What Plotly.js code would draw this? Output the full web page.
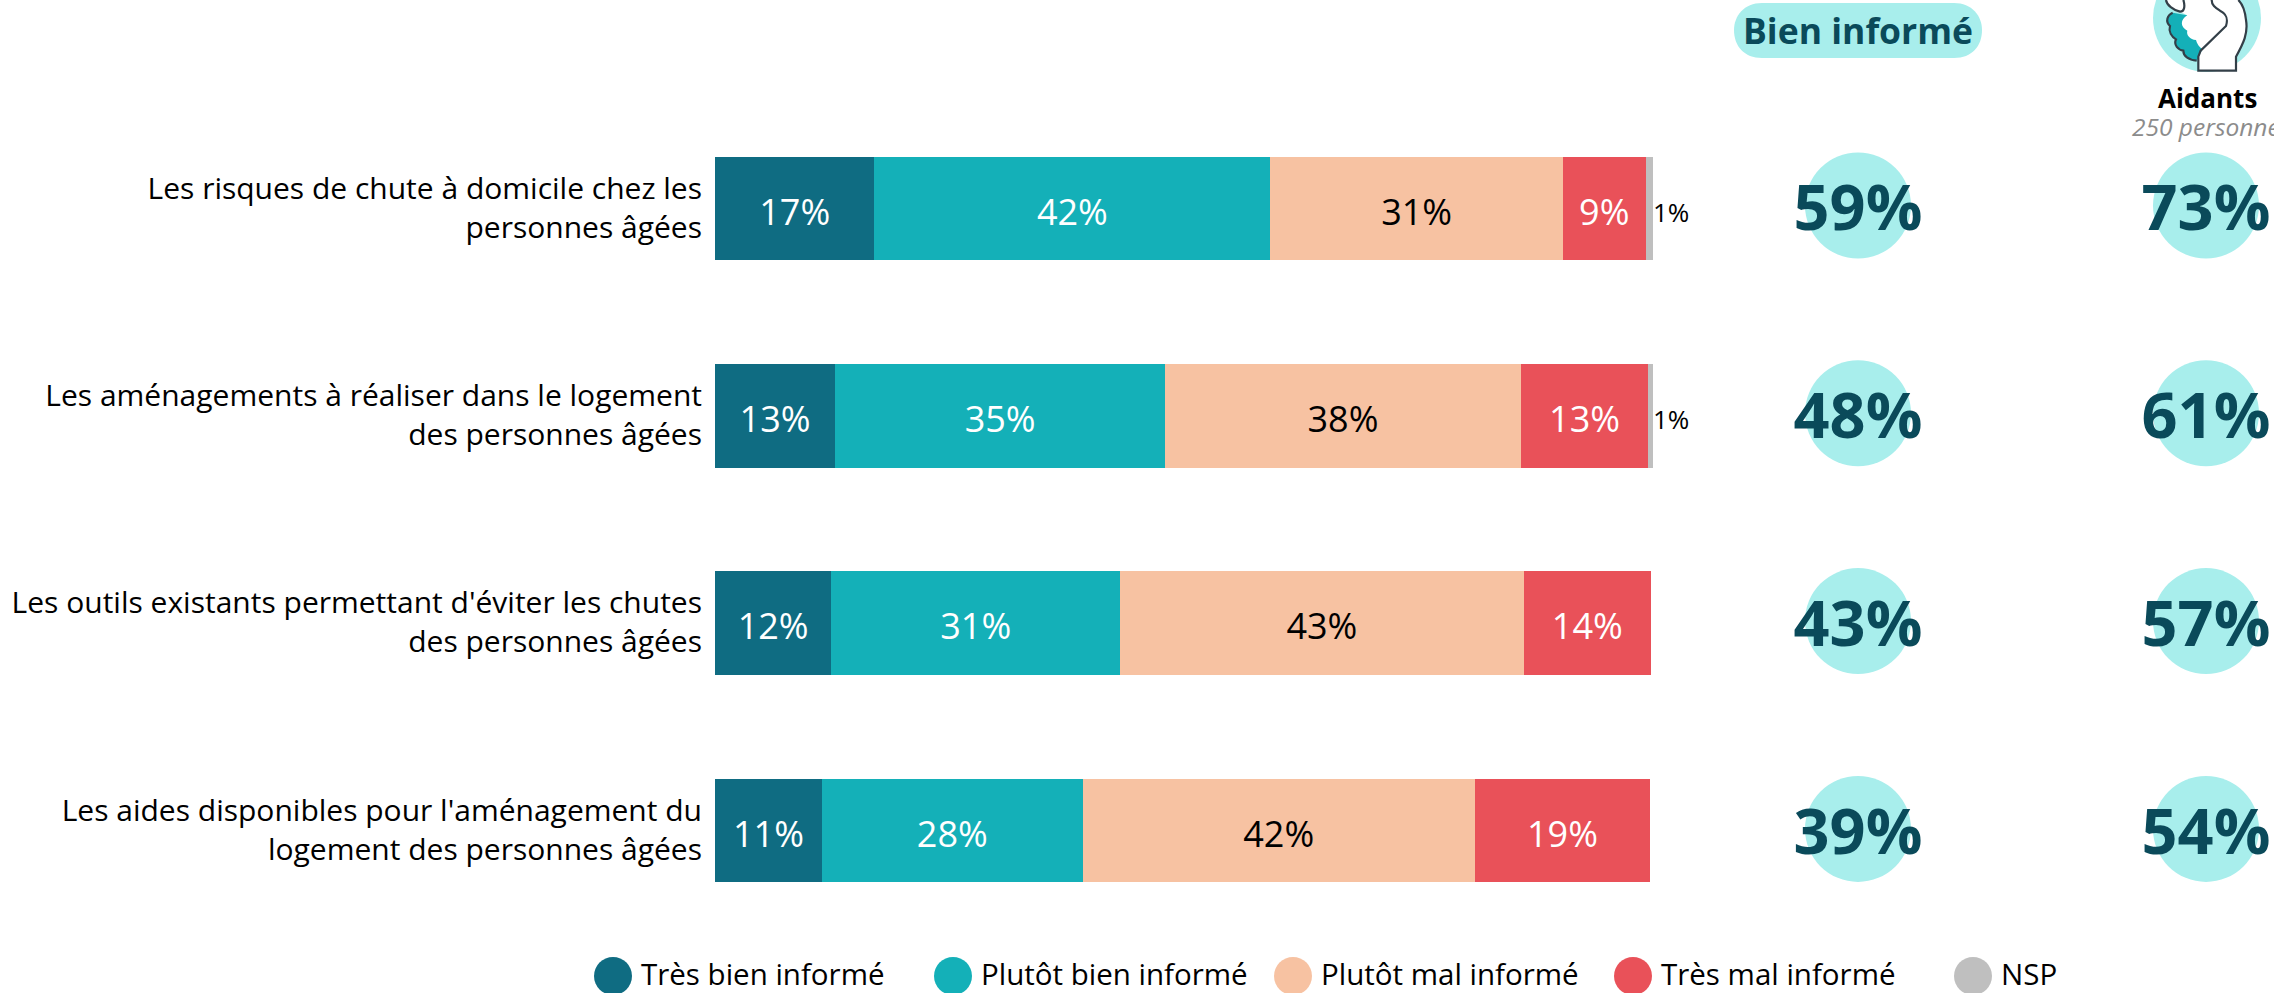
<!DOCTYPE html>
<html><head><meta charset="utf-8">
<script src="https://cdn.plot.ly/plotly-3.0.1.min.js"></script>
<style>html,body{margin:0;padding:0;background:#fff;overflow:hidden}</style>
</head><body><div id="chart" style="width:2274px;height:993px"></div>
<script>
const categories = [
 "Les risques de chute à domicile chez les<br>personnes âgées",
 "Les aménagements à réaliser dans le logement<br>des personnes âgées",
 "Les outils existants permettant d'éviter les chutes<br>des personnes âgées",
 "Les aides disponibles pour l'aménagement du<br>logement des personnes âgées"];
const seriesNames = ["Très bien informé","Plutôt bien informé","Plutôt mal informé","Très mal informé","NSP"];
const colors = ["#0F6C82","#14B0B8","#F7C2A2","#E95159","#BFBFBF"];
const tresBien = [17.0,12.8,12.4,11.4];
const plutotBien = [42.2,35.2,30.8,27.8];
const plutotMal = [31.2,37.9,43.0,41.8];
const tresMal = [8.8,13.6,13.6,18.7];
const nsp = [0.8,0.5,null,null];
const tresBienLabels = ["17%","13%","12%","11%"];
const plutotBienLabels = ["42%","35%","31%","28%"];
const plutotMalLabels = ["31%","38%","43%","42%"];
const tresMalLabels = ["9%","13%","14%","19%"];
const nspLabels = ["1%","1%","",""];
const bienInforme = ["59%","48%","43%","39%"];
const aidants = ["73%","61%","57%","54%"];
const columns = ["Bien informé","Aidants"];

const W=2274,H=993,FONT='"Open Sans", sans-serif';
const DARK="#0A4A5A",LIGHT="#A8EEEC",INK="#333F48";
const vals=[tresBien,plutotBien,plutotMal,tresMal,nsp];
const labs=[tresBienLabels,plutotBienLabels,plutotMalLabels,tresMalLabels,nspLabels];
const txtCol=["#fff","#fff","#000","#fff","#000"];
const traces=vals.map((v,i)=>({type:'bar',orientation:'h',name:seriesNames[i],y:categories,x:v,yaxis:'y2',
  marker:{color:colors[i],line:{width:0}},showlegend:false,hoverinfo:'x+y'}));
// carries the category tick labels
traces.push({type:'scatter',mode:'markers',x:tresBien,y:categories,xaxis:'x',yaxis:'y',marker:{size:1,opacity:0},showlegend:false,hoverinfo:'skip'});
// value labels: centred on each stacked segment (NSP: just right of the bar)
vals.forEach((v,i)=>{
  const xs=v.map((val,r)=>{
    if(val===null) return null;
    let base=0; for(let k=0;k<i;k++) base+=(vals[k][r]||0);
    return i==4? base+val : base+val/2;});
  traces.push({type:'scatter',mode:'text',x:xs,y:categories,xaxis:'x',yaxis:'y3',text:labs[i],
    textposition:i==4?'middle right':'middle center',cliponaxis:false,
    textfont:{family:FONT,size:i==4?26:36,color:txtCol[i]},showlegend:false,hoverinfo:'skip'});
});
columns.forEach((name,c)=>{
  const vs=c==0?bienInforme:aidants;
  traces.push({type:'scatter',mode:'markers',name:name,x:vs.map(()=>name),y:categories,xaxis:'x2',yaxis:'y4',cliponaxis:false,
    marker:{size:106,color:LIGHT,line:{width:0}},showlegend:false,hoverinfo:'skip'});
  traces.push({type:'scatter',mode:'text',name:name,x:vs.map(()=>name),y:categories,xaxis:'x2',yaxis:'y5',text:vs,
    textposition:'middle center',cliponaxis:false,textfont:{family:FONT,size:63,color:DARK,weight:700},showlegend:false,hoverinfo:'skip'});
});
traces.push({type:'scatter',mode:'markers',x:seriesNames,y:seriesNames.map(()=>"l"),xaxis:'x3',yaxis:'y6',cliponaxis:false,
  marker:{size:38,color:colors,line:{width:0}},showlegend:false,hoverinfo:'skip'});
traces.push({type:'scatter',mode:'text',x:seriesNames,y:seriesNames.map(()=>"l"),xaxis:'x4',yaxis:'y7',text:seriesNames,
  textposition:'middle right',cliponaxis:false,textfont:{family:FONT,size:29.5,color:'#000'},showlegend:false,hoverinfo:'skip'});

const fy=p=>1-p/H, fx=p=>p/W;
function rowAxis(top,rowH,extra){return Object.assign({domain:[fy(top+4*rowH),fy(top)],type:'category',categoryorder:'array',categoryarray:categories,
  autorange:false,range:[3.5,-0.5],visible:false,fixedrange:true,anchor:'x'},extra||{});}
function catX(arr,first,step,anchor){return {domain:[0,1],type:'category',categoryorder:'array',categoryarray:arr,autorange:false,
  range:[-first/step,(W-first)/step],visible:false,fixedrange:true,anchor:anchor};}
function legendY(center,anchor){return {domain:[0,fy(940)],type:'category',autorange:false,range:[center-H,center-940],visible:false,fixedrange:true,anchor:anchor};}
// icon drawn from pixel-space paths (zoomed 3x, origin 2130,0)
const ic=s=>{let n=0;return s.replace(/-?\d+(\.\d+)?/g,m=>{const v=+m;return (n++%2==0)?fx(2130+v/3):fy(v/3);});};
const iconShape=(path,fill,lw)=>({type:'path',xref:'paper',yref:'paper',path:ic(path),fillcolor:fill,line:{width:lw,color:INK}});
const layout={width:W,height:H,margin:{l:0,r:0,t:0,b:0},paper_bgcolor:'#fff',plot_bgcolor:'rgba(0,0,0,0)',
 barmode:'stack',bargap:0.5,showlegend:false,font:{family:FONT},
 xaxis:{domain:[fx(715),fx(1653)],range:[0,100],autorange:false,visible:false,fixedrange:true,anchor:'y'},
 yaxis:rowAxis(104.2,207.3,{visible:true,showgrid:false,zeroline:false,showline:false,ticks:'',ticklen:0,ticklabelstandoff:12,
   tickfont:{family:FONT,size:30,color:'#000'},automargin:false}),
 yaxis2:rowAxis(105,207.3),
 yaxis3:rowAxis(112,207.3),
 yaxis4:rowAxis(101.6,207.8,{anchor:'x2'}),
 yaxis5:rowAxis(110.5,208,{anchor:'x2'}),
 xaxis2:catX(columns,1858,348,'y4'),
 xaxis3:catX(seriesNames,613,340,'y6'),
 xaxis4:catX(seriesNames,641,340,'y7'),
 yaxis6:legendY(976,'x3'),
 yaxis7:legendY(977.5,'x4'),
 shapes:[
  {type:'path',xref:'paper',yref:'paper',fillcolor:LIGHT,line:{width:0},
   path:`M${fx(1762)},${fy(3)} L${fx(1954)},${fy(3)} C${fx(1972)},${fy(3)} ${fx(1982)},${fy(16)} ${fx(1982)},${fy(30)} C${fx(1982)},${fy(46)} ${fx(1972)},${fy(58)} ${fx(1954)},${fy(58)} L${fx(1762)},${fy(58)} C${fx(1744)},${fy(58)} ${fx(1734)},${fy(46)} ${fx(1734)},${fy(30)} C${fx(1734)},${fy(16)} ${fx(1744)},${fy(3)} ${fx(1762)},${fy(3)} Z`},
  {type:'circle',xref:'paper',yref:'paper',fillcolor:LIGHT,line:{width:0},x0:fx(2153),x1:fx(2261),y0:fy(72),y1:fy(-36)},
  iconShape('M128 38 C112 45 105 65 120 78 C115 95 125 110 138 118 C130 135 145 150 160 152 C160 168 175 180 200 182 L222 148 L172 46 Z','#14B0B8',0),
  iconShape('M150 35 L172 46 C150 60 150 80 172 92 C168 105 180 118 198 120 C200 130 208 142 218 148 L205 170 L205 212 L318 212 L318 170 C340 130 355 100 348 60 C345 30 335 10 325 0 L165 0 Z','#ffffff',0),
  iconShape('M128 38 C112 45 105 65 120 78 C115 95 125 110 138 118 C130 135 145 150 160 152 C160 168 175 180 200 182','rgba(0,0,0,0)',2.2),
  iconShape('M245 0 C245 15 255 22 270 32 C290 42 295 55 288 78 L212 152 L205 170 L205 212 L318 212 L318 170 C340 130 355 100 348 60 C345 30 335 10 325 0','rgba(0,0,0,0)',2.2),
  iconShape('M108 0 C110 15 130 30 150 35 C165 35 165 15 160 0','#ffffff',2.2)
 ],
 annotations:[
  {xref:'paper',yref:'paper',x:fx(1858),y:fy(30),text:'<b>Bien informé</b>',showarrow:false,xanchor:'center',yanchor:'middle',font:{family:FONT,size:35.5,color:DARK}},
  {xref:'paper',yref:'paper',x:fx(2207),y:fy(98),text:'<b>Aidants</b>',showarrow:false,xanchor:'center',yanchor:'middle',font:{family:FONT,size:26,color:'#000'}},
  {xref:'paper',yref:'paper',x:fx(2130),y:fy(127),text:'<i>250 personnes</i>',showarrow:false,xanchor:'left',yanchor:'middle',font:{family:FONT,size:24.5,color:'#8C8C8C'}}
 ]};
Plotly.newPlot('chart',traces,layout,{staticPlot:true,displayModeBar:false});
</script></body></html>
